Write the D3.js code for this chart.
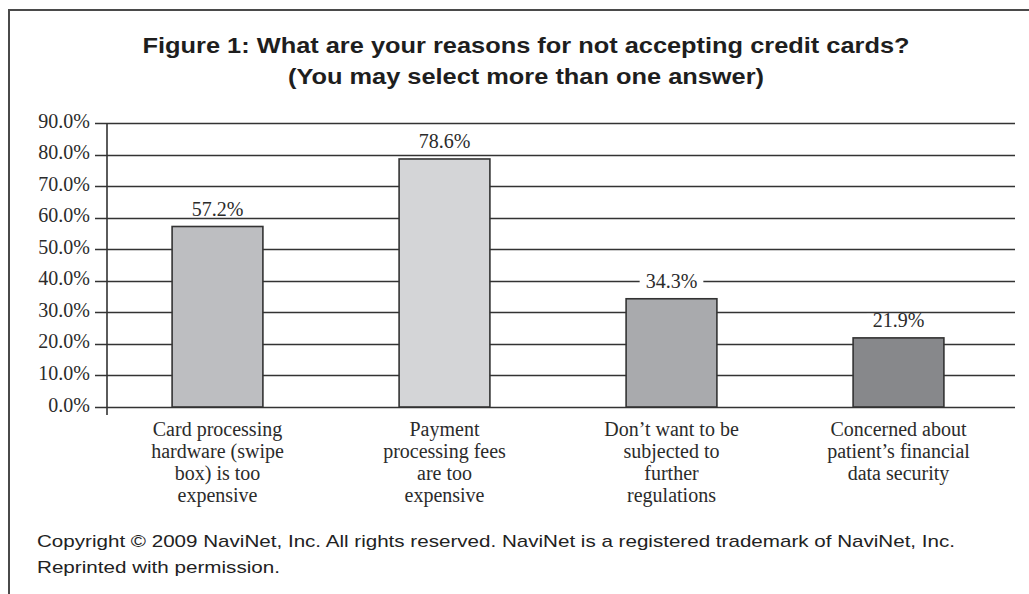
<!DOCTYPE html>
<html>
<head>
<meta charset="utf-8">
<script src="https://cdn.jsdelivr.net/npm/d3@7"></script>
<style>
  html, body { margin: 0; padding: 0; background: #fff; }
  svg { display: block; }
</style>
</head>
<body>
<svg id="chart" width="1029" height="594"></svg>
<script>
// ---- data ----
const categories = [
  ["Card processing", "hardware (swipe", "box) is too", "expensive"],
  ["Payment", "processing fees", "are too", "expensive"],
  ["Don\u2019t want to be", "subjected to", "further", "regulations"],
  ["Concerned about", "patient\u2019s financial", "data security"]
];
const categoryKeys = ["hardware", "fees", "regulations", "security"];
const values = [57.2, 78.6, 34.3, 21.9];
const barColors = ["#bdbec1", "#d4d5d7", "#a9aaad", "#87888b"];
const yTicks = [0, 10, 20, 30, 40, 50, 60, 70, 80, 90];
const titleLines = [
  "Figure 1: What are your reasons for not accepting credit cards?",
  "(You may select more than one answer)"
];
const footerLines = [
  "Copyright \u00A9 2009 NaviNet, Inc. All rights reserved. NaviNet is a registered trademark of NaviNet, Inc.",
  "Reprinted with permission."
];

// ---- layout ----
const svg = d3.select("#chart");
const axisX = 107, gridRight = 1015, tickLeft = 95;
const y = d3.scaleLinear().domain([0, 90]).range([407, 123]);
const x = d3.scaleBand().domain(categoryKeys).range([104, 1012])
  .paddingInner(0.6).paddingOuter(0.3);

const ink = "#2b2b2b";
const serif = "'Liberation Serif', 'DejaVu Serif', serif";
const sans = "'Liberation Sans', Arial, sans-serif";

// frame
svg.append("path")
  .attr("d", "M9,594 V10 H1029")
  .attr("fill", "none").attr("stroke", "#4a4a4a").attr("stroke-width", 2);

// title
const titleY = [53, 84];
const titleW = [767, 476];
svg.selectAll("text.title").data(titleLines).join("text")
  .attr("class", "title")
  .attr("x", 526).attr("y", (d, i) => titleY[i])
  .attr("text-anchor", "middle")
  .attr("font-family", sans).attr("font-weight", "bold").attr("font-size", 22)
  .attr("fill", "#1e1e1e")
  .attr("textLength", (d, i) => titleW[i]).attr("lengthAdjust", "spacingAndGlyphs")
  .text(d => d);

// gridlines
svg.append("g").selectAll("line").data(yTicks).join("line")
  .attr("x1", tickLeft).attr("x2", gridRight)
  .attr("y1", d => Math.round(y(d)) + 0.5).attr("y2", d => Math.round(y(d)) + 0.5)
  .attr("stroke", "#333").attr("stroke-width", 1.6);

// y axis (labels)
const yAxis = d3.axisLeft(y).tickValues(yTicks)
  .tickFormat(d => d3.format(".1f")(d) + "%")
  .tickSize(0).tickPadding(5);
const gy = svg.append("g").attr("transform", `translate(${tickLeft},0)`).call(yAxis);
gy.select(".domain").remove();
gy.selectAll("text")
  .attr("dy", "0.2em")
  .attr("font-family", serif).attr("font-size", 20).attr("fill", ink);

// vertical axis line
svg.append("line")
  .attr("x1", axisX).attr("x2", axisX).attr("y1", y(90)).attr("y2", y(0) + 8)
  .attr("stroke", "#333").attr("stroke-width", 1.6);

// bars
svg.append("g").selectAll("rect").data(values).join("rect")
  .attr("x", (d, i) => x(categoryKeys[i]))
  .attr("width", x.bandwidth())
  .attr("y", d => y(d))
  .attr("height", d => y(0) - y(d))
  .attr("fill", (d, i) => barColors[i])
  .attr("stroke", "#333").attr("stroke-width", 1.6);

// value labels with white knockout behind the digits
const vl = svg.append("g");
values.forEach((v, i) => {
  const cx = x(categoryKeys[i]) + x.bandwidth() / 2;
  const base = y(v) - 11;
  const g = vl.append("g");
  const rect = g.append("rect").attr("fill", "#fff");
  const t = g.append("text")
    .attr("x", cx).attr("y", base)
    .attr("text-anchor", "middle")
    .attr("font-family", serif).attr("font-size", 20).attr("fill", ink)
    .text(d3.format(".1f")(v) + "%");
  const bb = t.node().getBBox();
  rect.attr("x", bb.x - 6).attr("y", base - 13).attr("width", bb.width + 12).attr("height", 14);
});

// category labels
const cl = svg.append("g");
categories.forEach((lines, i) => {
  const cx = x(categoryKeys[i]) + x.bandwidth() / 2;
  cl.append("text")
    .attr("text-anchor", "middle")
    .attr("font-family", serif).attr("font-size", 20).attr("fill", ink)
    .selectAll("tspan").data(lines).join("tspan")
    .attr("x", cx).attr("y", (d, j) => 436 + j * 22)
    .text(d => d);
});

// footer
const footY = [547, 573];
const footW = [918, 243];
svg.selectAll("text.foot").data(footerLines).join("text")
  .attr("class", "foot")
  .attr("x", 37).attr("y", (d, i) => footY[i])
  .attr("font-family", sans).attr("font-size", 17).attr("fill", "#222")
  .attr("textLength", (d, i) => footW[i]).attr("lengthAdjust", "spacingAndGlyphs")
  .text(d => d);
</script>
</body>
</html>
